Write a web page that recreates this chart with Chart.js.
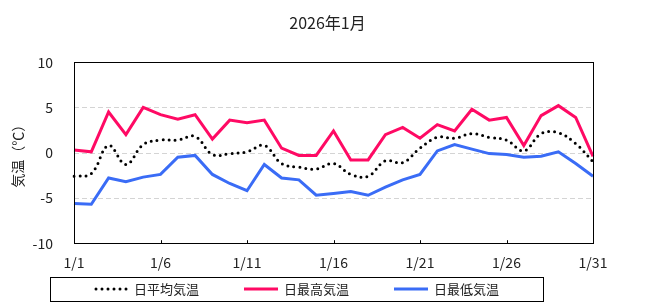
<!DOCTYPE html>
<html>
<head>
<meta charset="utf-8">
<script src="https://cdn.jsdelivr.net/npm/chart.js@4"></script>
<style>
  html, body { margin: 0; padding: 0; background: #fff; }
  #wrap { width: 655px; height: 308px; }
</style>
</head>
<body>
<div id="wrap"><canvas id="tempChart" width="655" height="308"></canvas></div>
<script>
// 日付ラベル
const days = ['1/1','1/2','1/3','1/4','1/5','1/6','1/7','1/8','1/9','1/10',
  '1/11','1/12','1/13','1/14','1/15','1/16','1/17','1/18','1/19','1/20',
  '1/21','1/22','1/23','1/24','1/25','1/26','1/27','1/28','1/29','1/30','1/31'];

// 気温データ (℃)
const meanTemps = [-2.6, -2.3, 0.8, -1.3, 0.9, 1.4, 1.4, 1.8, -0.2, -0.1,
  0.1, 0.8, -1.2, -1.6, -1.8, -1.2, -2.4, -2.6, -0.9, -1.1,
  0.5, 1.7, 1.6, 2.1, 1.7, 1.4, 0.2, 2.1, 2.2, 1.0, -1.0];
const maxTemps = [0.3, 0.1, 4.5, 2.0, 5.0, 4.2, 3.7, 4.2, 1.5, 3.6,
  3.3, 3.6, 0.5, -0.3, -0.3, 2.4, -0.8, -0.8, 2.0, 2.8,
  1.6, 3.1, 2.4, 4.8, 3.6, 3.9, 0.8, 4.1, 5.2, 3.9, -0.4];
const minTemps = [-5.6, -5.7, -2.8, -3.2, -2.7, -2.4, -0.5, -0.3, -2.4, -3.4,
  -4.2, -1.3, -2.8, -3.0, -4.7, -4.5, -4.3, -4.7, -3.8, -3.0,
  -2.4, 0.2, 0.9, 0.4, -0.1, -0.2, -0.5, -0.4, 0.1, -1.2, -2.6];

const yTicks = [-10, -5, 0, 5, 10];
const seriesLabels = ['日平均気温', '日最高気温', '日最低気温'];

const FONT = '"Noto Sans CJK JP", "Noto Sans", sans-serif';
const TEXT_COLOR = '#222';

// 枠線・グリッド・下側の目盛り
const framePlugin = {
    id: 'frame',
    afterLayout(chart) {
        // タイトルはキャンバス中央に
        if (chart.titleBlock) {
            chart.titleBlock.left = 0;
            chart.titleBlock.right = chart.width;
        }
    },
    beforeDatasetsDraw(chart) {
        const { ctx, chartArea } = chart;
        const yScale = chart.scales.y;
        ctx.save();
        ctx.strokeStyle = '#d4d4d4';
        ctx.lineWidth = 1;
        ctx.setLineDash([5, 3]);
        yTicks.forEach(v => {
            if (v === yTicks[0] || v === yTicks[yTicks.length - 1]) return;
            const y = Math.round(yScale.getPixelForValue(v)) + 0.5;
            ctx.beginPath();
            ctx.moveTo(chartArea.left, y);
            ctx.lineTo(chartArea.right, y);
            ctx.stroke();
        });
        ctx.restore();
    },
    afterDatasetsDraw(chart) {
        const { ctx, chartArea } = chart;
        const xScale = chart.scales.x;
        ctx.save();
        ctx.setLineDash([]);
        ctx.strokeStyle = '#000';
        ctx.lineWidth = 1;
        ctx.strokeRect(Math.round(chartArea.left) + 0.5, Math.round(chartArea.top) + 0.5,
            Math.round(chartArea.right - chartArea.left), Math.round(chartArea.bottom - chartArea.top));
        days.forEach((d, i) => {
            if (i % 5 !== 0) return;
            const x = Math.round(xScale.getPixelForValue(i)) + 0.5;
            ctx.beginPath();
            ctx.moveTo(x, chartArea.bottom);
            ctx.lineTo(x, chartArea.bottom - 3);
            ctx.stroke();
        });
        ctx.restore();
    }
};

// 凡例 (枠付き)
const boxLegendPlugin = {
    id: 'boxLegend',
    afterDraw(chart) {
        const { ctx, chartArea } = chart;
        const cx = chartArea.right / 2;
        const top = 277, bottom = 301;
        const cy = (top + bottom) / 2;
        const sampleW = 34, gap = 6, itemGap = 45;
        ctx.save();
        ctx.font = '13px ' + FONT;
        const widths = chart.data.datasets.map(ds => sampleW + gap + ctx.measureText(ds.label).width);
        const total = widths.reduce((a, b) => a + b, 0) + itemGap * (widths.length - 1);
        ctx.setLineDash([]);
        ctx.strokeStyle = '#000';
        ctx.lineWidth = 1;
        ctx.strokeRect(Math.round(cx - 247) + 0.5, top + 0.5, 493, bottom - top);

        let x = cx - total / 2;
        chart.data.datasets.forEach((ds, i) => {
            ctx.save();
            ctx.strokeStyle = ds.borderColor;
            ctx.lineWidth = ds.borderWidth;
            ctx.lineCap = ds.borderCapStyle || 'butt';
            ctx.setLineDash(ds.borderDash || []);
            ctx.beginPath();
            ctx.moveTo(x + (ds.borderDash ? 2 : 0), cy);
            ctx.lineTo(x + sampleW, cy);
            ctx.stroke();
            ctx.restore();
            ctx.fillStyle = TEXT_COLOR;
            ctx.textBaseline = 'middle';
            ctx.textAlign = 'left';
            ctx.fillText(ds.label, x + sampleW + gap, cy);
            x += widths[i] + itemGap;
        });
        ctx.restore();
    }
};

const chartCanvas = document.getElementById('tempChart');
const tempChart = new Chart(chartCanvas, {
    type: 'line',
    data: {
        labels: days,
        datasets: [
            {
                label: seriesLabels[0],
                data: meanTemps,
                borderColor: '#000',
                borderWidth: 3,
                borderDash: [0, 6],
                borderCapStyle: 'round',
                tension: 0.4,
                pointRadius: 0,
                fill: false
            },
            {
                label: seriesLabels[1],
                data: maxTemps,
                borderColor: '#ff0a64',
                borderWidth: 3,
                tension: 0,
                pointRadius: 0,
                fill: false
            },
            {
                label: seriesLabels[2],
                data: minTemps,
                borderColor: '#3a6cf6',
                borderWidth: 3,
                tension: 0,
                pointRadius: 0,
                fill: false
            }
        ]
    },
    options: {
        responsive: false,
        animation: false,
        layout: { padding: { top: 0, right: 62, bottom: 34, left: 0 } },
        plugins: {
            legend: { display: false },
            tooltip: { enabled: false },
            title: {
                display: true,
                text: '2026年1月',
                color: TEXT_COLOR,
                font: { family: FONT, size: 16, weight: 'normal' },
                padding: { top: 13, bottom: 30 }
            }
        },
        scales: {
            x: {
                type: 'category',
                offset: false,
                grid: { display: false },
                border: { display: false },
                ticks: {
                    autoSkip: false,
                    maxRotation: 0,
                    padding: 3,
                    color: TEXT_COLOR,
                    font: { family: FONT, size: 14 },
                    callback: function (value, index) {
                        return index % 5 === 0 ? days[index] : null;
                    }
                }
            },
            y: {
                min: yTicks[0],
                max: yTicks[yTicks.length - 1],
                afterBuildTicks: scale => {
                    scale.ticks = yTicks.map(v => ({ value: v }));
                },
                afterFit: scale => { scale.width = 74; },
                grid: { display: false, drawTicks: false },
                border: { display: false },
                ticks: {
                    padding: 21,
                    color: TEXT_COLOR,
                    font: { family: FONT, size: 14 }
                },
                title: {
                    display: true,
                    text: '気温（℃）',
                    color: TEXT_COLOR,
                    font: { family: FONT, size: 14 },
                    padding: { top: 9, bottom: 0 }
                }
            }
        }
    },
    plugins: [framePlugin, boxLegendPlugin]
});
</script>
</body>
</html>
